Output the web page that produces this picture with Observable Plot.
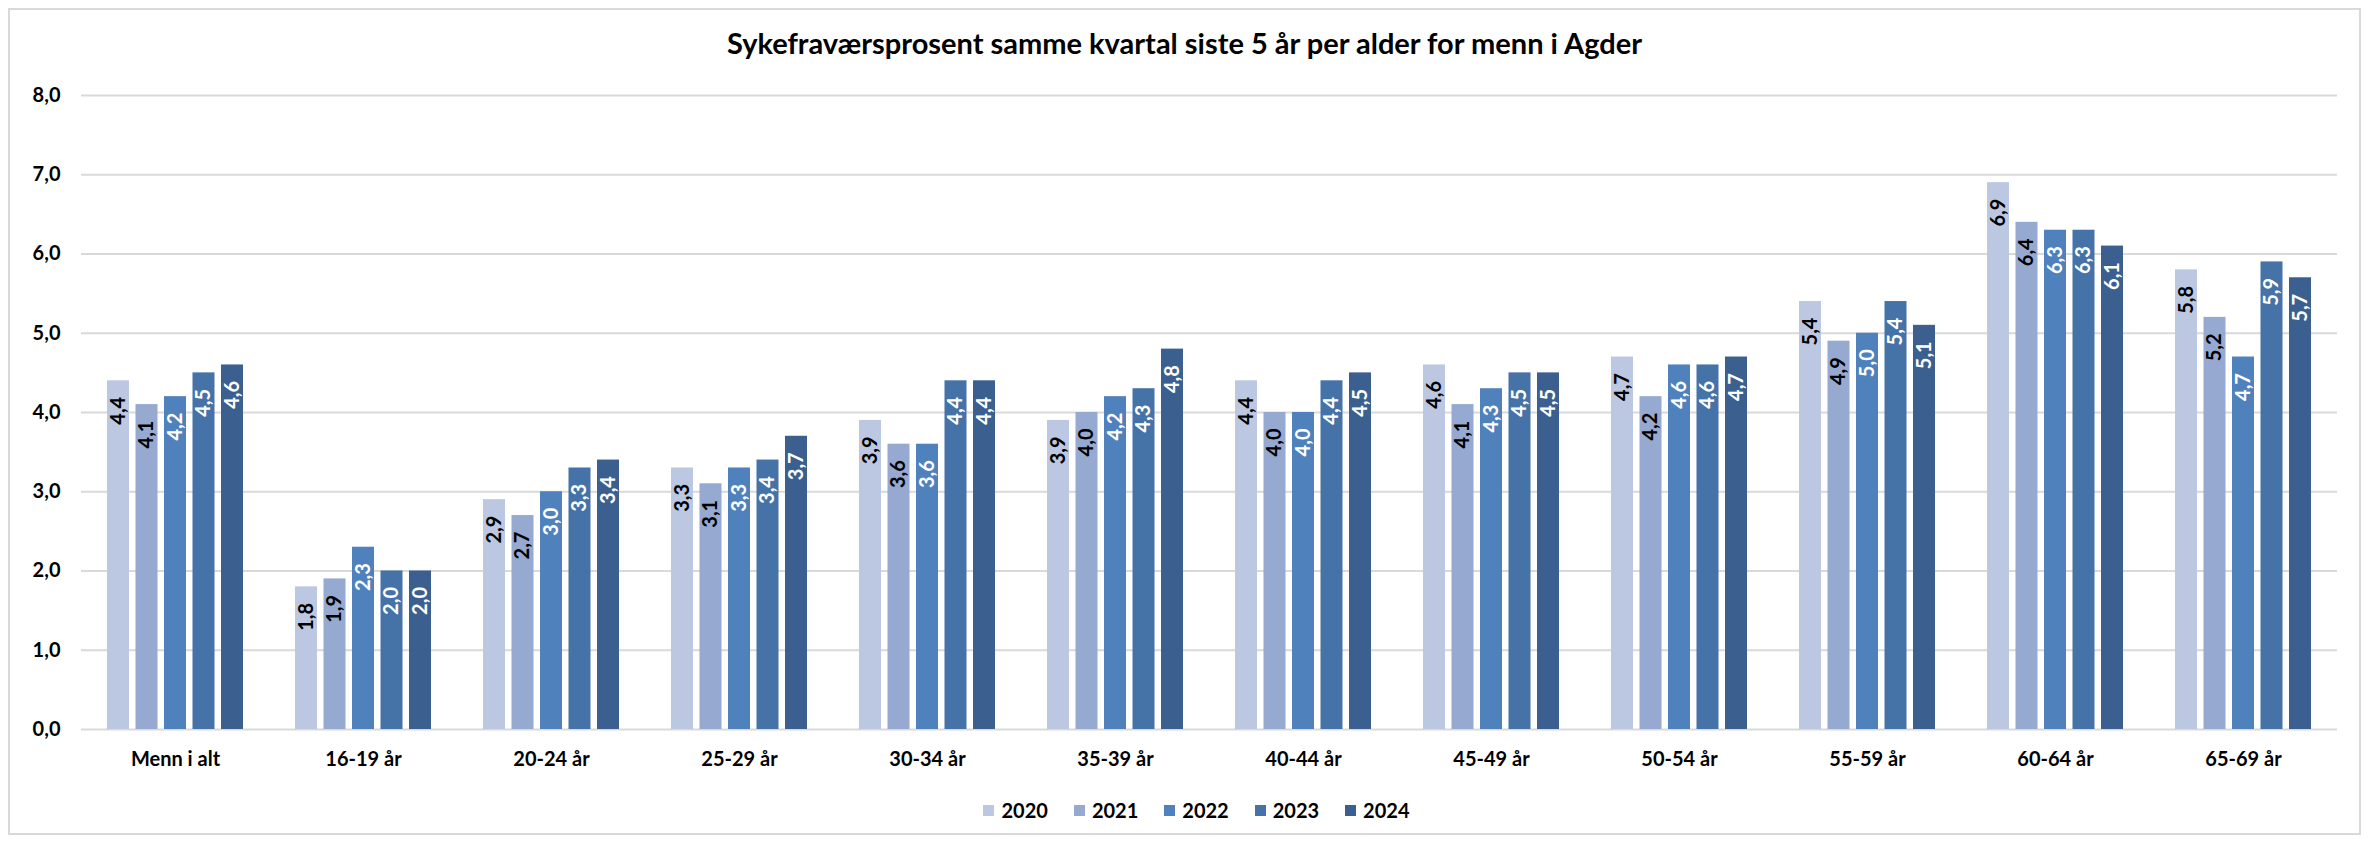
<!DOCTYPE html>
<html>
<head>
<meta charset="utf-8">
<script src="https://cdn.jsdelivr.net/npm/d3@7"></script>
<script src="https://cdn.jsdelivr.net/npm/@observablehq/plot@0.6"></script>
<style>
  html, body { margin: 0; padding: 0; background: #fff; overflow: hidden; }
  #wrap { position: relative; width: 2369px; height: 842px; overflow: hidden; font-family: Lato, "Open Sans", sans-serif; color: #000; }
  #border { position: absolute; left: 8px; top: 8px; width: 2349px; height: 823px; border: 2px solid #D9D9D9; box-sizing: content-box; }
  #title { position: absolute; left: 0; top: 28px; width: 2369px; text-align: center; font-weight: bold; font-size: 29px; line-height: 29px; white-space: nowrap; }
  #chart { position: absolute; left: 0; top: 0; }
  #legend { position: absolute; left: 12px; top: 800px; width: 2369px; display: flex; justify-content: center; align-items: center; font-weight: bold; font-size: 20px; line-height: 20px; }
  .item { display: flex; align-items: center; margin: 0 13px; }
  .sw { width: 11px; height: 11px; margin-right: 7px; }
</style>
</head>
<body>
<div id="wrap">
  <div id="border"></div>
  <div id="title"></div>
  <div id="chart"></div>
  <div id="legend"></div>
</div>
<script>
const titleText = "Sykefraværsprosent samme kvartal siste 5 år per alder for menn i Agder";
const categories = ["Menn i alt", "16-19 år", "20-24 år", "25-29 år", "30-34 år", "35-39 år", "40-44 år", "45-49 år", "50-54 år", "55-59 år", "60-64 år", "65-69 år"];
const years = ["2020", "2021", "2022", "2023", "2024"];
const v2020 = [4.4, 1.8, 2.9, 3.3, 3.9, 3.9, 4.4, 4.6, 4.7, 5.4, 6.9, 5.8];
const v2021 = [4.1, 1.9, 2.7, 3.1, 3.6, 4.0, 4.0, 4.1, 4.2, 4.9, 6.4, 5.2];
const v2022 = [4.2, 2.3, 3.0, 3.3, 3.6, 4.2, 4.0, 4.3, 4.6, 5.0, 6.3, 4.7];
const v2023 = [4.5, 2.0, 3.3, 3.4, 4.4, 4.3, 4.4, 4.5, 4.6, 5.4, 6.3, 5.9];
const v2024 = [4.6, 2.0, 3.4, 3.7, 4.4, 4.8, 4.5, 4.5, 4.7, 5.1, 6.1, 5.7];
const yTicks = [0, 1, 2, 3, 4, 5, 6, 7, 8];
const colors = ["#BCC8E1", "#95A9D1", "#4F81BD", "#4572A7", "#3B5F8F"];
const darkLabelYears = ["2020", "2021"];

const series = [v2020, v2021, v2022, v2023, v2024];
const data = [];
categories.forEach((c, i) => years.forEach((y, j) => data.push({cat: c, year: y, value: series[j][i]})));
const fmt = v => v.toFixed(1).replace(".", ",");

document.getElementById("title").textContent = titleText;

const chart = Plot.plot({
  width: 2369,
  height: 790,
  marginLeft: 81,
  marginRight: 32,
  marginTop: 95,
  marginBottom: 61,
  style: {fontFamily: "Lato, 'Open Sans', sans-serif", fontSize: "20px", fontWeight: "bold", color: "#000", background: "transparent", overflow: "visible"},
  fx: {domain: categories, padding: 0, round: false},
  x: {domain: years, paddingInner: 0.228, paddingOuter: 0.912, round: false, axis: null},
  y: {domain: [0, 8]},
  color: {domain: years, range: colors},
  marks: [
    Plot.ruleY(yTicks, {stroke: "#D9D9D9", strokeWidth: 2}),
    Plot.barY(data, {fx: "cat", x: "year", y: "value", fill: "year"}),
    Plot.text(data.filter(d => darkLabelYears.includes(d.year)), {fx: "cat", x: "year", y: "value", text: d => fmt(d.value), rotate: -90, textAnchor: "end", dy: 16, fill: "#000"}),
    Plot.text(data.filter(d => !darkLabelYears.includes(d.year)), {fx: "cat", x: "year", y: "value", text: d => fmt(d.value), rotate: -90, textAnchor: "end", dy: 16, fill: "#fff"}),
    Plot.axisY({ticks: yTicks, tickSize: 0, tickPadding: 21, tickFormat: fmt, label: null}),
    Plot.axisFx({anchor: "bottom", tickSize: 0, tickPadding: 22, label: null})
  ]
});
document.getElementById("chart").appendChild(chart);

const legend = document.getElementById("legend");
years.forEach((y, i) => {
  const it = document.createElement("div");
  it.className = "item";
  const sw = document.createElement("div");
  sw.className = "sw";
  sw.style.background = colors[i];
  const tx = document.createElement("span");
  tx.textContent = y;
  it.appendChild(sw);
  it.appendChild(tx);
  legend.appendChild(it);
});
</script>
</body>
</html>
